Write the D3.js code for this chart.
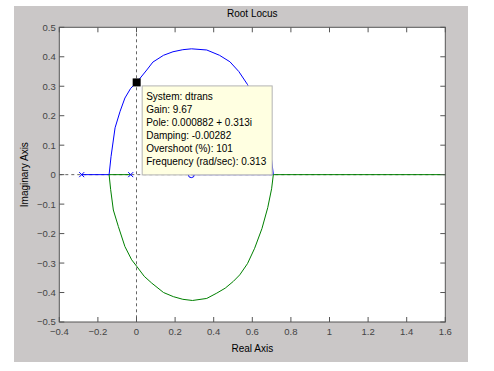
<!DOCTYPE html>
<html>
<head>
<meta charset="utf-8">
<script src="https://cdn.jsdelivr.net/npm/d3@7"></script>
<style>
  body { margin: 0; background: #fff; }
  text { font-family: "Liberation Sans", Arial, sans-serif; }
</style>
</head>
<body>
<div id="chart"></div>
<script>
// root locus branches (real, imag)
const upperArc = [
  [-0.142, 0], [-0.132, 0.061], [-0.111, 0.159], [-0.085, 0.215], [-0.060, 0.260],
  [-0.030, 0.293], [0.001, 0.313], [0.053, 0.355], [0.085, 0.382], [0.140, 0.405],
  [0.189, 0.417], [0.240, 0.424], [0.285, 0.427], [0.364, 0.423], [0.430, 0.405],
  [0.484, 0.383], [0.530, 0.350], [0.575, 0.306], [0.612, 0.252], [0.650, 0.185],
  [0.680, 0.115], [0.700, 0.050], [0.709, 0]
];
const lowerArc = [
  [-0.142, 0], [-0.134, -0.050], [-0.120, -0.120], [-0.094, -0.176], [-0.060, -0.244],
  [-0.025, -0.289], [0.001, -0.311], [0.040, -0.345], [0.079, -0.368], [0.140, -0.400],
  [0.191, -0.414], [0.240, -0.423], [0.290, -0.427], [0.364, -0.420], [0.416, -0.402],
  [0.460, -0.385], [0.502, -0.362], [0.535, -0.340], [0.575, -0.302], [0.612, -0.250],
  [0.650, -0.183], [0.680, -0.112], [0.700, -0.048], [0.709, 0]
];
const blueAxis1 = [[-0.284, 0], [-0.142, 0]];
const greenAxis1 = [[-0.030, 0], [-0.142, 0]];
const blueAxis2 = [[0.709, 0], [0.284, 0]];
const greenAxis2 = [[0.709, 0], [1.6, 0]];
const poles = [-0.284, -0.030];
const zeros = [0.284];

const xTicks = [-0.4, -0.2, 0, 0.2, 0.4, 0.6, 0.8, 1, 1.2, 1.4, 1.6];
const yTicks = [0.5, 0.4, 0.3, 0.2, 0.1, 0, -0.1, -0.2, -0.3, -0.4, -0.5];

const tipPoint = [0.000882, 0.313];
const tipLines = [
  "System: dtrans",
  "Gain: 9.67",
  "Pole: 0.000882 + 0.313i",
  "Damping: -0.00282",
  "Overshoot (%): 101",
  "Frequency (rad/sec): 0.313"
];

const W = 494, H = 371;
const margin = { top: 27.3, right: 48.7, bottom: 49, left: 59.3 };
const width = W - margin.left - margin.right;
const height = H - margin.top - margin.bottom;

const svg = d3.select("#chart").append("svg")
  .attr("width", W).attr("height", H);

// figure background
svg.append("rect")
  .attr("x", 14).attr("y", 6).attr("width", 454).attr("height", 356)
  .attr("fill", "#cac7c7");

const g = svg.append("g")
  .attr("transform", `translate(${margin.left},${margin.top})`);

const x = d3.scaleLinear().domain([-0.4, 1.6]).range([0, width]);
const y = d3.scaleLinear().domain([-0.5, 0.5]).range([height, 0]);

g.append("rect")
  .attr("width", width).attr("height", height)
  .attr("fill", "#fff");

// dashed zero lines
g.append("line")
  .attr("x1", 0).attr("x2", width)
  .attr("y1", y(0)).attr("y2", y(0))
  .attr("stroke", "#666").attr("stroke-dasharray", "3,3");
g.append("line")
  .attr("x1", x(0)).attr("x2", x(0))
  .attr("y1", 0).attr("y2", height)
  .attr("stroke", "#666").attr("stroke-dasharray", "3,3");

const line = d3.line().x(d => x(d[0])).y(d => y(d[1]));

const branches = [
  { pts: upperArc, color: "#0000ff" },
  { pts: blueAxis1, color: "#0000ff" },
  { pts: blueAxis2, color: "#0000ff" },
  { pts: lowerArc, color: "#008000" },
  { pts: greenAxis1, color: "#008000" },
  { pts: greenAxis2, color: "#008000" }
];

g.selectAll(".branch")
  .data(branches)
  .enter()
  .append("path")
  .attr("class", "branch")
  .attr("d", d => line(d.pts))
  .attr("fill", "none")
  .attr("stroke", d => d.color)
  .attr("stroke-width", 1);

// poles (x) and zeros (o)
g.selectAll(".pole")
  .data(poles)
  .enter()
  .append("path")
  .attr("class", "pole")
  .attr("d", d => `M${x(d) - 2.5},${y(0) - 2.5}L${x(d) + 2.5},${y(0) + 2.5}M${x(d) - 2.5},${y(0) + 2.5}L${x(d) + 2.5},${y(0) - 2.5}`)
  .attr("stroke", "#0000ff")
  .attr("fill", "none");

g.selectAll(".zero")
  .data(zeros)
  .enter()
  .append("circle")
  .attr("cx", d => x(d)).attr("cy", y(0)).attr("r", 3)
  .attr("stroke", "#0000ff").attr("fill", "none");

// axis box
g.append("rect")
  .attr("width", width).attr("height", height)
  .attr("fill", "none").attr("stroke", "#555");

const tl = 5;
g.selectAll(".xtick")
  .data(xTicks)
  .enter()
  .append("path")
  .attr("d", d => `M${x(d)},${height}v${-tl}M${x(d)},0v${tl}`)
  .attr("stroke", "#555");
g.selectAll(".ytick")
  .data(yTicks)
  .enter()
  .append("path")
  .attr("d", d => `M0,${y(d)}h${tl}M${width},${y(d)}h${-tl}`)
  .attr("stroke", "#555");

const fmt = d => (d < 0 ? "\u2212" : "") + d3.format("")(Math.abs(d));

g.selectAll(".xlab")
  .data(xTicks)
  .enter()
  .append("text")
  .attr("x", d => x(d)).attr("y", height + 13)
  .attr("text-anchor", "middle")
  .attr("font-size", "9.5px").attr("fill", "#444")
  .text(fmt);
g.selectAll(".ylab")
  .data(yTicks)
  .enter()
  .append("text")
  .attr("x", -3.5).attr("y", d => y(d) + 3.5)
  .attr("text-anchor", "end")
  .attr("font-size", "9.5px").attr("fill", "#444")
  .text(fmt);

svg.append("text")
  .attr("x", margin.left + width / 2).attr("y", 17)
  .attr("text-anchor", "middle").attr("font-size", "10px")
  .text("Root Locus");
svg.append("text")
  .attr("x", margin.left + width / 2).attr("y", 352)
  .attr("text-anchor", "middle").attr("font-size", "10px")
  .text("Real Axis");
svg.append("text")
  .attr("transform", `translate(28,${margin.top + height / 2}) rotate(-90)`)
  .attr("text-anchor", "middle").attr("font-size", "10px")
  .text("Imaginary Axis");

// data tip
const tx = x(tipPoint[0]), ty = y(tipPoint[1]);
const tip = g.append("g").attr("transform", `translate(${tx + 5},${ty + 3})`);
tip.append("rect")
  .attr("x", 0.5).attr("y", 0.5)
  .attr("width", 130).attr("height", 89)
  .attr("fill", "#ffffe1").attr("stroke", "#b4b4b4");
tip.selectAll("text")
  .data(tipLines)
  .enter()
  .append("text")
  .attr("x", 4.5).attr("y", (d, i) => 15 + i * 12.9)
  .attr("font-size", "10px").attr("fill", "#000")
  .text(d => d);

g.append("rect")
  .attr("x", tx - 4).attr("y", ty - 4)
  .attr("width", 8).attr("height", 8)
  .attr("fill", "#000");
</script>
</body>
</html>
